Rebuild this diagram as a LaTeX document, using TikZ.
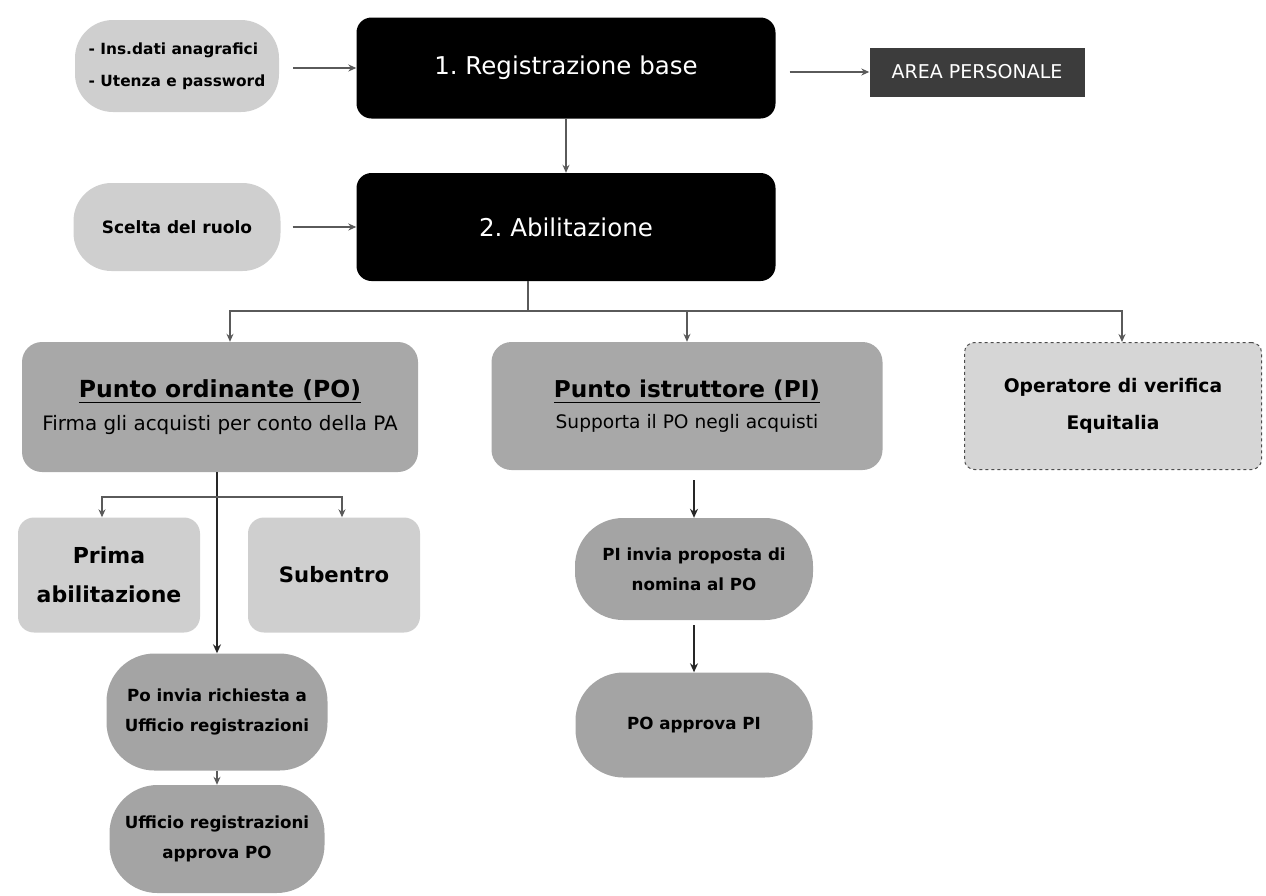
\documentclass[tikz,border=0pt]{standalone}
\usepackage{fontspec}
\setmainfont{DejaVu Sans}
\frenchspacing
\usetikzlibrary{arrows.meta}
\newcommand{\setfs}[2]{\fontsize{#1}{#2}\selectfont}
\definecolor{lightbox}{HTML}{CFCFCF}
\definecolor{midbox}{HTML}{A8A8A8}
\definecolor{pillbox}{HTML}{A4A4A4}
\definecolor{opbox}{HTML}{D6D6D6}
\definecolor{areabox}{HTML}{3C3C3C}
\definecolor{lineclr}{HTML}{5A5A5A}
\tikzset{
  base/.style={inner sep=0pt, align=center, text=black},
  blackbox/.style={base, fill=black, rounded corners=15pt, text=white, font=\setfs{24.5}{30}},
  lightpill/.style={base, fill=lightbox, rounded corners=38pt, font=\bfseries\setfs{15.4}{32}},
  rolebox/.style={base, fill=midbox, rounded corners=20pt},
  subbox/.style={base, fill=lightbox, rounded corners=16pt, font=\bfseries\setfs{22}{39}},
  steppill/.style={base, fill=pillbox, rounded corners=48pt, font=\bfseries\setfs{16.7}{30}},
  conn/.style={draw=lineclr, line width=1.4pt, -{Stealth[length=8pt,width=7pt]}},
  darkconn/.style={draw=black!85, line width=2.2pt, -{Stealth[length=9pt,width=8pt]}}
}
\begin{document}
\begin{tikzpicture}[x=1pt,y=-1pt]
\useasboundingbox (0,0) rectangle (1266,895);
% top row
\node[lightpill, minimum width=204pt, minimum height=92pt, align=left] (ins) at (177,66) {- Ins.dati anagrafici\\- Utenza e password};
\node[blackbox, minimum width=419pt, minimum height=101pt] (reg1) at (566,68) {1. Registrazione base};
\node[base, fill=areabox, text=white, minimum width=215pt, minimum height=49pt, font=\setfs{19}{22}] (area) at (977,72) {AREA PERSONALE};
% second row
\node[lightpill, minimum width=207pt, minimum height=88pt, font=\bfseries\setfs{17}{22}] (scelta) at (177,227) {Scelta del ruolo};
\node[blackbox, minimum width=419pt, minimum height=108pt] (abil) at (566,227) {2. Abilitazione};
% roles
\node[rolebox, minimum width=396pt, minimum height=130pt] (po) at (220,407)
  {{\bfseries\setfs{23.5}{30}\underline{Punto ordinante (PO)}}\\[12pt]{\setfs{19.9}{26}Firma gli acquisti per conto della PA}};
\node[rolebox, minimum width=391pt, minimum height=128pt] (pi) at (687,406)
  {{\bfseries\setfs{23.2}{30}\underline{Punto istruttore (PI)}}\\[11pt]{\setfs{18.6}{26}Supporta il PO negli acquisti}};
\node[base, fill=opbox, draw=black!70, dashed, line width=1pt, rounded corners=10pt, minimum width=297pt, minimum height=127pt, font=\bfseries\setfs{18.7}{37}] (op) at (1113,406) {Operatore di verifica\\Equitalia};
% PO branch
\node[subbox, minimum width=182pt, minimum height=115pt] (prima) at (109,575) {Prima\\abilitazione};
\node[subbox, minimum width=172pt, minimum height=115pt, font=\bfseries\setfs{21.2}{26}] (sub) at (334,575) {Subentro};
\node[steppill, minimum width=221pt, minimum height=117pt] (poinv) at (217,712) {Po invia richiesta a\\Ufficio registrazioni};
\node[steppill, minimum width=215pt, minimum height=108pt] (uff) at (217,839) {Ufficio registrazioni\\approva PO};
% PI branch
\node[steppill, minimum width=238pt, minimum height=102pt] (piinv) at (694,569) {PI invia proposta di\\nomina al PO};
\node[steppill, minimum width=237pt, minimum height=105pt] (poapp) at (694,725) {PO approva PI};
% connectors
\draw[conn, shorten <=14pt] (ins.east |- reg1) -- (reg1.west);
\draw[conn, shorten <=14pt] (reg1.east |- area) -- (area.west);
\draw[conn] (reg1) -- (abil);
\draw[conn, shorten <=12pt] (scelta.east) -- (abil.west);
\coordinate (j1) at (528,311);
\draw[draw=lineclr, line width=1.4pt] (abil.south -| j1) -- (j1);
\draw[conn] (j1) -| ([xshift=10pt]po.north);
\draw[conn] (j1) -| (pi.north);
\draw[conn] (j1) -| ([xshift=9pt]op.north);
\coordinate (j2) at (218,497);
\draw[darkconn] (po.south -| poinv) -- (poinv.north);
\draw[conn] (j2) -| ([xshift=-7pt]prima.north);
\draw[conn] (j2) -| ([xshift=8pt]sub.north);
\draw[conn] (poinv) -- (uff);
\draw[darkconn, shorten <=10pt] (pi.south -| piinv) -- (piinv.north);
\draw[darkconn, shorten <=5pt] (piinv) -- (poapp);
\end{tikzpicture}
\end{document}
